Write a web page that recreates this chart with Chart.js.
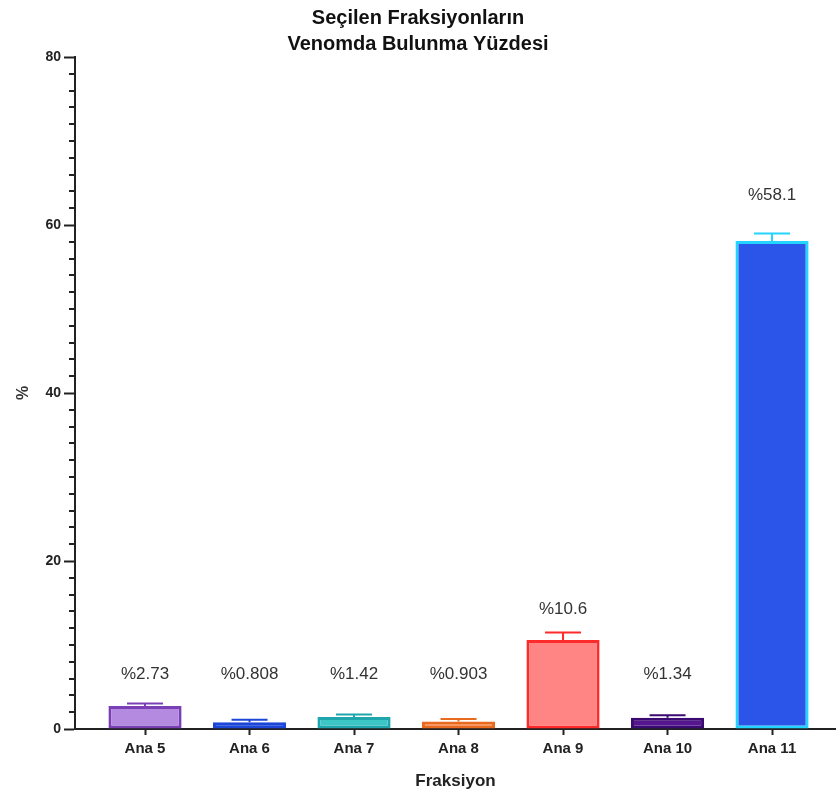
<!DOCTYPE html>
<html>
<head>
<meta charset="utf-8">
<script src="https://cdn.jsdelivr.net/npm/chart.js@4.4.0/dist/chart.umd.min.js"></script>
<style>
html,body{margin:0;padding:0;background:#fff;}
#wrap{width:836px;height:798px;}
</style>
</head>
<body>
<div id="wrap"><canvas id="c" width="836" height="798"></canvas></div>
<script>
const titleLines = ["Seçilen Fraksiyonların", "Venomda Bulunma Yüzdesi"];
const categories = ["Ana 5", "Ana 6", "Ana 7", "Ana 8", "Ana 9", "Ana 10", "Ana 11"];
const values = [2.73, 0.808, 1.42, 0.903, 10.6, 1.34, 58.1];
const errors = [0.3, 0.3, 0.3, 0.3, 0.9, 0.3, 0.9];
const valueLabels = ["%2.73", "%0.808", "%1.42", "%0.903", "%10.6", "%1.34", "%58.1"];
const fillColors = ["#b48ae0", "#2a5be6", "#3cc6c6", "#ff7d3a", "#ff8484", "#55168f", "#2a55e8"];
const edgeColors = ["#7b3fb5", "#1c46d8", "#1fa6ad", "#e86a1e", "#ff2a2a", "#3a0a72", "#22d4ff"];
const yTicks = [0, 20, 40, 60, 80];
const xTitle = "Fraksiyon";
const yTitle = "%";

const axisColor = "#222";
const FONT = "'Liberation Sans', Arial, sans-serif";

const extras = {
  id: "extras",
  afterDatasetsDraw(chart) {
    const ctx = chart.ctx;
    const meta = chart.getDatasetMeta(0);
    const ys = chart.scales.y;
    ctx.save();
    meta.data.forEach((bar, i) => {
      const topV = values[i] + errors[i];
      const yTop = ys.getPixelForValue(topV);
      const yBar = ys.getPixelForValue(values[i]);
      ctx.strokeStyle = edgeColors[i];
      ctx.lineWidth = 2;
      ctx.beginPath();
      ctx.moveTo(bar.x, yBar);
      ctx.lineTo(bar.x, yTop);
      ctx.moveTo(bar.x - 18, yTop);
      ctx.lineTo(bar.x + 18, yTop);
      ctx.stroke();
      const a = Math.max(topV, 4);
      const anchor = ys.getPixelForValue(a);
      ctx.fillStyle = "#333";
      ctx.font = "17px " + FONT;
      ctx.textAlign = "center";
      ctx.textBaseline = "middle";
      ctx.fillText(valueLabels[i], bar.x, anchor - (20 + 0.3 * a));
    });
    ctx.restore();
  },
  afterDraw(chart) {
    const ctx = chart.ctx;
    const ys = chart.scales.y;
    const left = chart.chartArea.left;
    ctx.save();
    ctx.strokeStyle = axisColor;
    ctx.lineWidth = 2;
    ctx.beginPath();
    for (let v = 2; v < 80; v += 2) {
      if (v % 20 === 0) continue;
      const y = Math.round(ys.getPixelForValue(v));
      ctx.moveTo(left - 6, y);
      ctx.lineTo(left, y);
    }
    ctx.stroke();
    ctx.restore();
  }
};

new Chart(document.getElementById("c"), {
  type: "bar",
  data: {
    datasets: [{
      data: values.map((v, i) => ({ x: i + 1, y: v })),
      backgroundColor: fillColors,
      borderColor: edgeColors,
      borderWidth: 3,
      borderSkipped: false,
      barPercentage: 0.7,
      categoryPercentage: 1.0
    }]
  },
  options: {
    responsive: false,
    animation: false,
    layout: { padding: { left: 0, right: 0, top: 0, bottom: 0 } },
    plugins: {
      legend: { display: false },
      tooltip: { enabled: false },
      title: {
        display: true,
        text: titleLines,
        color: "#111",
        font: { family: FONT, size: 20, weight: "bold", lineHeight: 1.3 },
        padding: { top: 5, bottom: 0 }
      }
    },
    scales: {
      x: {
        type: "linear",
        offset: false,
        min: 0.33,
        max: 7.612,
        afterBuildTicks: (s) => { s.ticks = categories.map((c, i) => ({ value: i + 1 })); },
        afterFit: (s) => { s.height = 69; },
        ticks: {
          autoSkip: false,
          maxRotation: 0,
          padding: 5,
          color: "#222",
          font: { family: FONT, size: 15, weight: "bold" },
          callback: (v) => categories[v - 1] || ""
        },
        grid: { offset: false, drawOnChartArea: false, drawTicks: true, tickLength: 6, tickColor: axisColor, tickWidth: 2 },
        border: { display: true, color: axisColor, width: 2 },
        title: {
          display: true, text: xTitle, color: "#222",
          font: { family: FONT, size: 17, weight: "bold" },
          padding: { top: 0, bottom: 6 }
        }
      },
      y: {
        type: "linear",
        min: 0,
        max: 80,
        afterBuildTicks: (s) => { s.ticks = yTicks.map(v => ({ value: v })); },
        afterFit: (s) => { s.width = 75; },
        ticks: {
          padding: 3,
          color: "#222",
          font: { family: FONT, size: 14, weight: "bold" }
        },
        grid: { drawOnChartArea: false, drawTicks: true, tickLength: 11, tickColor: axisColor, tickWidth: 2 },
        border: { display: true, color: axisColor, width: 2 },
        title: {
          display: true, text: yTitle, color: "#333",
          font: { family: FONT, size: 16, weight: "bold" },
          padding: { top: 14, bottom: 0 }
        }
      }
    }
  },
  plugins: [extras]
});
</script>
</body>
</html>
